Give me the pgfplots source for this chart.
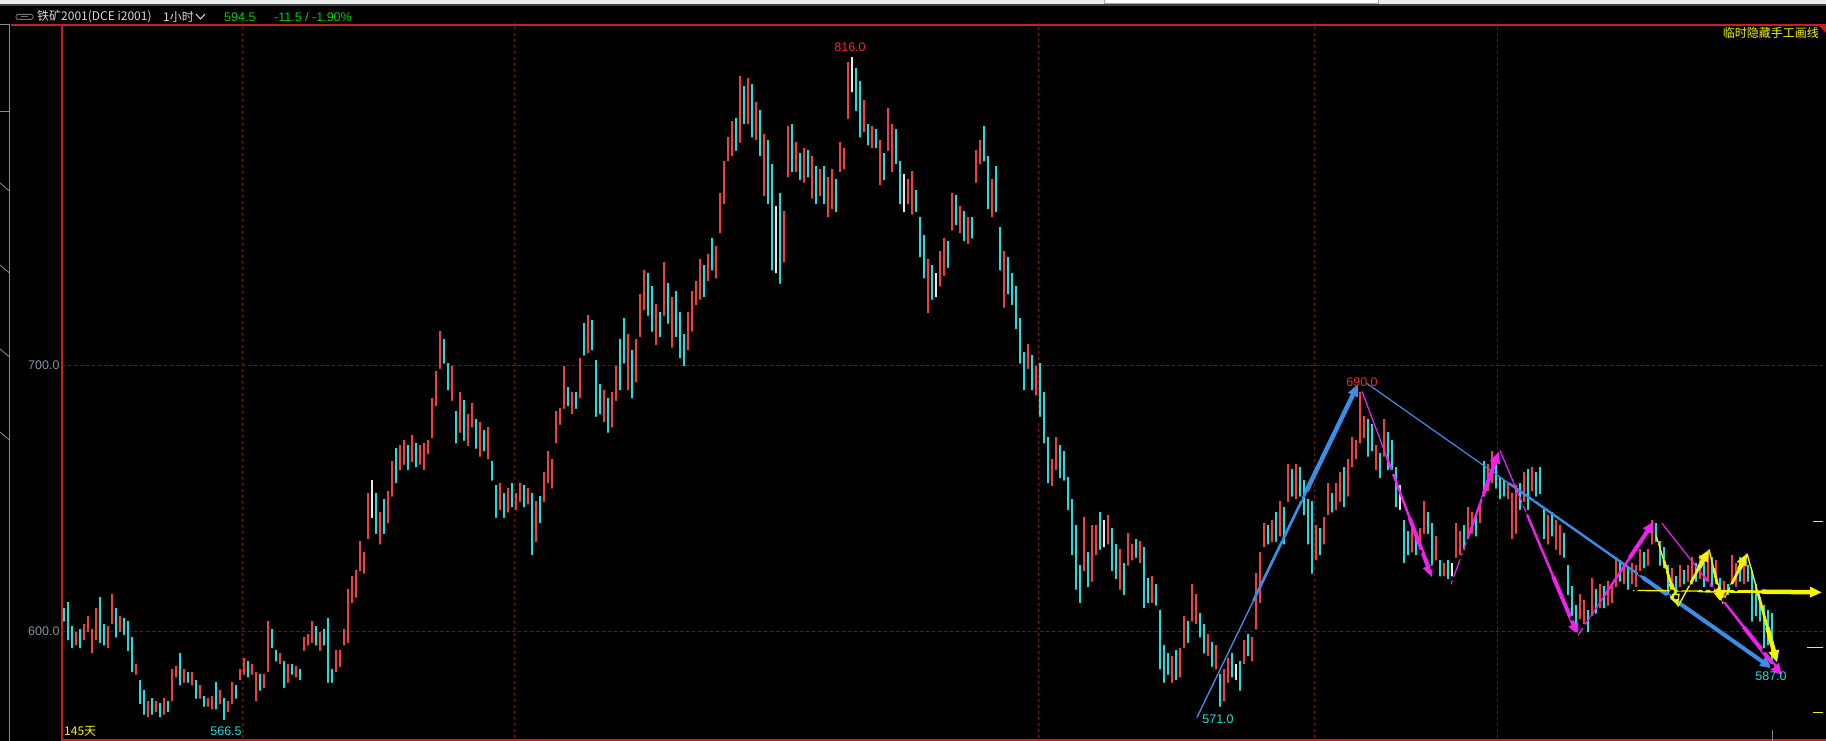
\documentclass[border=0pt]{standalone}
\usepackage{pgfplots}
\pgfplotsset{compat=1.18}
\usepackage{pgfplotstable}
\usepackage{fontspec}
\setmainfont{Liberation Sans}
\newfontfamily\cjk{Noto Sans CJK SC}
\usetikzlibrary{arrows.meta,calc}

\definecolor{upred}{HTML}{F0403C}
\definecolor{dncyan}{HTML}{22DDE0}
\definecolor{doji}{HTML}{E8E8E8}
\definecolor{gridred}{HTML}{8C0A0A}
\definecolor{framered}{HTML}{C81E1E}
\definecolor{tickgray}{HTML}{8494A4}
\definecolor{arrblue}{HTML}{3A8EE6}
\definecolor{arrmag}{HTML}{F020F0}
\definecolor{arryel}{HTML}{F5F500}
\definecolor{lblred}{HTML}{E83030}
\definecolor{lblcyan}{HTML}{20E0E0}
\definecolor{hdrgreen}{HTML}{00D000}

% x = bar position (px), lo/hi = range, c: 1 up, 0 down, 2 doji
\pgfplotstableread{
x lo hi c
64 603 609 0
68 596 611 0
72 593 602 0
76 594 600 1
80 593 601 0
84 596 603 1
88 599 606 1
92 591 601 1
96 596 609 1
100 595 613 0
104 594 603 0
108 593 602 1
112 602 614 1
116 597 609 0
120 599 606 1
124 598 605 0
128 592 604 0
132 584 598 0
136 583 588 1
140 572 582 0
144 568 578 0
148 567 574 1
152 568 575 0
156 569 574 1
160 567 573 0
164 568 575 1
168 569 574 0
172 573 586 1
176 582 587 1
180 579 592 0
184 580 586 1
188 580 585 0
192 579 585 1
196 574 582 0
200 574 580 1
204 571 576 0
208 571 575 1
212 570 576 1
216 570 581 0
220 572 578 1
224 566 575 0
228 569 574 1
232 572 581 1
236 574 580 0
240 581 586 1
244 583 590 1
248 582 589 0
252 583 588 1
256 573 585 1
260 577 584 0
264 578 584 1
268 584 604 1
272 593 601 0
276 588 593 0
280 587 592 1
284 578 589 0
288 580 588 1
292 583 588 0
296 582 587 1
300 581 586 0
304 592 598 1
308 594 599 1
312 595 604 1
316 594 602 0
320 592 600 1
324 594 601 0
328 580 605 0
332 580 586 0
336 584 593 1
340 586 593 1
344 594 601 1
348 595 616 1
352 610 621 1
356 612 623 1
360 622 634 1
364 621 630 1
368 634 652 1
372 642 657 2
376 636 652 0
380 632 645 1
384 636 650 0
388 640 653 1
392 650 664 1
396 655 669 0
400 660 670 1
404 662 672 1
408 660 670 0
412 663 674 1
416 661 671 0
420 662 670 1
424 660 671 1
428 666 672 1
432 672 688 1
436 684 698 1
440 698 713 1
444 700 710 0
448 690 701 0
452 686 700 1
456 670 683 0
460 674 690 1
464 671 687 0
468 669 682 1
472 676 686 1
476 668 680 0
480 665 679 1
484 667 676 0
488 664 677 1
492 656 664 0
496 642 655 0
500 645 656 1
504 642 652 0
508 644 654 1
512 646 656 0
516 645 652 1
520 648 656 1
524 646 655 0
528 647 654 1
532 628 652 0
536 633 649 1
540 640 651 0
544 648 660 1
548 655 668 1
552 653 665 1
556 670 683 1
560 677 684 1
564 683 700 1
568 684 692 0
572 681 690 1
576 683 690 0
580 687 703 1
584 703 716 0
588 704 719 1
592 705 717 0
596 680 702 0
600 681 693 0
604 678 691 1
608 674 688 0
612 676 690 1
616 686 700 1
620 690 710 0
624 700 718 0
628 690 712 1
632 687 706 0
636 693 710 1
640 710 727 1
644 720 736 1
648 718 735 0
652 712 730 0
656 707 723 1
660 710 720 0
664 718 739 1
668 715 731 0
672 706 726 1
676 710 728 0
680 702 720 0
684 699 712 0
688 705 720 1
692 712 728 1
696 722 732 1
700 724 740 1
704 725 738 0
708 731 742 1
712 735 748 0
716 732 745 1
720 749 765 1
724 760 777 1
728 776 786 1
732 778 792 1
736 780 793 0
740 783 809 1
744 790 805 0
748 790 808 1
752 785 806 0
756 784 799 1
760 778 796 0
764 763 787 1
768 760 785 0
772 735 776 0
776 734 760 2
780 730 765 0
784 738 758 1
788 770 790 1
792 772 791 0
796 772 784 1
800 769 780 0
804 768 782 1
808 770 781 0
812 762 779 1
816 760 775 0
820 763 774 1
824 760 775 0
828 755 771 1
832 758 774 1
836 757 770 0
840 772 784 1
844 773 782 1
848 792 814 1
852 802 816 2
856 795 812 0
860 785 807 0
864 787 800 1
868 782 791 0
872 781 790 1
876 781 789 0
880 767 785 1
884 769 780 0
888 780 797 1
892 772 791 1
896 775 789 0
900 760 777 0
904 757 772 2
908 760 770 1
912 756 773 1
916 757 766 0
920 740 756 0
924 732 749 0
928 719 740 1
932 724 738 0
936 725 735 2
940 729 743 1
944 733 748 1
948 736 747 0
952 750 765 1
956 752 764 0
960 749 760 1
964 746 758 0
968 745 756 1
972 747 756 0
976 768 781 1
980 775 785 1
984 776 790 0
988 758 779 0
992 755 770 1
996 757 775 0
1000 735 752 0
1004 721 743 1
1008 726 741 0
1012 722 735 0
1016 713 730 0
1020 700 718 0
1024 690 705 0
1028 698 708 1
1032 690 704 0
1036 688 700 1
1040 680 701 0
1044 670 690 0
1048 655 673 0
1052 654 665 1
1056 660 673 1
1060 657 670 0
1064 656 668 0
1068 645 658 0
1072 628 650 0
1076 615 640 0
1080 610 625 0
1084 622 643 1
1088 616 630 0
1092 618 640 1
1096 628 640 1
1100 630 645 0
1104 631 642 2
1108 632 644 1
1112 622 639 0
1116 619 633 0
1120 615 631 1
1124 613 626 0
1128 624 637 1
1132 626 633 1
1136 627 635 0
1140 625 634 1
1144 608 632 0
1148 610 620 0
1152 610 621 1
1156 609 618 0
1160 585 608 0
1164 580 595 0
1168 583 592 0
1172 580 591 1
1176 581 593 0
1180 582 594 1
1184 593 606 1
1188 595 604 0
1192 603 618 1
1196 602 614 1
1200 597 607 0
1204 591 603 0
1208 590 599 1
1212 586 596 0
1216 585 595 1
1220 571 584 0
1224 573 586 1
1228 580 590 1
1232 582 592 0
1236 581 588 2
1240 577 589 0
1244 587 597 1
1248 590 599 0
1252 588 598 1
1256 600 622 1
1260 610 630 1
1264 631 641 1
1268 632 640 0
1272 633 642 1
1276 633 645 0
1280 635 649 1
1284 632 647 0
1288 648 663 1
1292 650 661 0
1296 649 663 1
1300 650 662 0
1304 643 657 0
1308 632 650 0
1312 621 649 0
1316 626 640 1
1320 628 639 0
1324 632 643 1
1328 643 656 1
1332 644 652 0
1336 645 656 1
1340 648 660 1
1344 646 662 0
1348 650 665 1
1352 661 673 1
1356 664 672 1
1360 670 690 1
1364 672 681 1
1368 665 680 0
1372 667 678 0
1376 660 670 1
1380 657 667 0
1384 665 680 1
1388 660 675 0
1392 660 672 0
1396 646 662 0
1400 645 655 2
1404 625 642 0
1408 628 638 0
1412 629 640 1
1416 628 637 0
1420 630 639 1
1424 636 649 1
1428 636 645 0
1432 624 641 0
1436 626 636 1
1440 620 627 0
1444 620 626 1
1448 619 627 0
1452 620 626 2
1456 627 641 1
1460 628 638 1
1464 630 640 0
1468 634 647 1
1472 636 645 1
1476 635 644 0
1480 640 648 1
1484 650 664 0
1488 652 663 1
1492 655 668 1
1496 653 666 0
1500 649 658 0
1504 650 657 0
1508 649 656 1
1512 634 652 1
1516 636 655 1
1520 645 656 0
1524 648 660 1
1528 645 661 0
1532 652 662 1
1536 650 660 0
1540 651 662 0
1544 634 646 0
1548 632 644 1
1552 635 645 0
1556 630 642 1
1560 628 640 1
1564 627 637 0
1568 613 625 0
1572 605 617 0
1576 599 610 0
1580 604 614 1
1584 602 612 1
1588 599 608 0
1592 605 620 1
1596 606 616 0
1600 608 618 1
1604 608 617 0
1608 609 619 1
1612 610 617 1
1616 616 628 1
1620 618 627 0
1624 617 626 1
1628 615 624 0
1632 617 626 1
1636 616 625 1
1640 622 631 1
1644 623 630 0
1648 624 631 1
1652 632 642 1
1656 633 641 0
1660 624 634 0
1664 623 632 0
1668 613 625 0
1672 615 624 1
1676 613 621 0
1680 616 625 1
1684 617 623 0
1688 618 625 1
1692 617 628 1
1696 618 626 0
1700 619 629 1
1704 616 626 0
1708 618 630 1
1712 616 628 0
1716 617 627 1
1720 611 620 0
1724 612 619 1
1728 613 618 0
1732 617 629 1
1736 616 626 1
1740 618 628 0
1744 617 627 1
1748 618 625 0
1752 603 623 0
1756 605 618 0
1760 603 613 0
1764 593 610 0
1768 594 608 0
1772 587 607 0
}\candles

% tapered hand-drawn arrow: colour, start, end, max width
\newcommand\taper[4]{%
  \draw[#1, line width=0.3*#4] (#2) -- ($(#2)!0.4!(#3)$);
  \draw[#1, line width=0.6*#4] ($(#2)!0.35!(#3)$) -- ($(#2)!0.72!(#3)$);
  \draw[#1, line width=#4, -{Triangle[length=12pt,width=10pt]}] ($(#2)!0.68!(#3)$) -- (#3);
}

\begin{document}
\begin{tikzpicture}[x=1pt,y=1pt]
\fill[black] (0,0) rectangle (1826,741);
% window strip at the top
\fill[black!8] (0,741) rectangle (1826,737);
\fill[white] (1104,741) rectangle (1378,737.5);
\draw[black!35, line width=0.8pt] (1104,741) -- (1104,737.5) -- (1378,737.5) -- (1378,741);
\fill[black!75] (0,737) rectangle (1826,735);

\begin{axis}[
  at={(62,1)}, anchor=south west,
  scale only axis, width=1764pt, height=715pt,
  xmin=62, xmax=1826, ymin=559.9, ymax=828.7,
  axis line style={draw=none},
  clip=false,
  xtick={242,514,1038,1314,1497}, xticklabels={},
  ytick={600,700}, yticklabels={600.0,700.0},
  major tick length=0pt,
  yticklabel style={text=tickgray, font=\fontsize{12.5}{14}\selectfont, xshift=1pt},
  grid=major,
  major grid style={gridred, line width=0.9pt, dash pattern=on 3pt off 3pt},
]
\addplot[only marks, mark=none, restrict expr to domain={\thisrow{c}}{0.5:1.5},
  error bars/.cd, y dir=plus, y explicit, error mark=none,
  error bar style={upred, line width=2.1pt}]
  table[x=x, y=lo, y error expr=\thisrow{hi}-\thisrow{lo}] {\candles};
\addplot[only marks, mark=none, restrict expr to domain={\thisrow{c}}{-0.5:0.5},
  error bars/.cd, y dir=plus, y explicit, error mark=none,
  error bar style={dncyan, line width=2.1pt}]
  table[x=x, y=lo, y error expr=\thisrow{hi}-\thisrow{lo}] {\candles};
\addplot[only marks, mark=none, restrict expr to domain={\thisrow{c}}{1.5:2.5},
  error bars/.cd, y dir=plus, y explicit, error mark=none,
  error bar style={doji, line width=2.1pt}]
  table[x=x, y=lo, y error expr=\thisrow{hi}-\thisrow{lo}] {\candles};

% hand-drawn lines
\taper{arrblue}{axis cs:1197,567.8}{axis cs:1358,693.0}{4.5pt}
\taper{arrblue}{axis cs:1367,693.3}{axis cs:1772,586.2}{4pt}
\taper{arrmag}{axis cs:1362,690.3}{axis cs:1432,620.4}{4pt}
\taper{arrmag}{axis cs:1451,617.8}{axis cs:1499,667.8}{4pt}
\taper{arrmag}{axis cs:1500,668.1}{axis cs:1578,598.6}{4pt}
\taper{arrmag}{axis cs:1578,598.6}{axis cs:1654,641.5}{4pt}
\taper{arrmag}{axis cs:1662,640.7}{axis cs:1782,583.5}{4pt}
\taper{arryel}{axis cs:1633,615.5}{axis cs:1822,614.8}{4.5pt}
\taper{arryel}{axis cs:1656,636.2}{axis cs:1678,609.5}{4.5pt}
\taper{arryel}{axis cs:1678,609.5}{axis cs:1709,630.9}{4.5pt}
\taper{arryel}{axis cs:1709,630.9}{axis cs:1722,610.6}{4.5pt}
\taper{arryel}{axis cs:1722,610.6}{axis cs:1747,629.4}{4.5pt}
\taper{arryel}{axis cs:1747,629.4}{axis cs:1777,588.4}{4.5pt}

% high / low labels
\node[text=lblred, font=\fontsize{12.5}{14}\selectfont] at (axis cs:850,819.7) {816.0};
\node[text=lblred, font=\fontsize{12.5}{14}\selectfont] at (axis cs:1362,693.7) {690.0};
\node[text=lblcyan, font=\fontsize{12.5}{14}\selectfont] at (axis cs:1218,567.0) {571.0};
\node[text=lblcyan, font=\fontsize{12.5}{14}\selectfont] at (axis cs:226,562.5) {566.5};
\node[text=lblcyan, font=\fontsize{12.5}{14}\selectfont] at (axis cs:1771,583.2) {587.0};
\end{axis}

% frame
\draw[framered, line width=1.3pt] (11,716) -- (1826,716);
\draw[framered, line width=1.3pt] (62,716) -- (62,1) -- (1826,1);
\fill[framered] (1818,716) -- (1826,716) -- (1826,708) -- cycle;

% header
\draw[black!55, line width=1pt, rounded corners=1.5pt] (16,721.5) rectangle (33,726.5);
\draw[black!55, line width=1pt] (21,724) -- (28,724);
\node[anchor=west, inner sep=0pt, text=black!15, font=\cjk\fontsize{12}{14}\selectfont] at (37,724) {铁矿2001(DCE i2001)};
\node[anchor=west, inner sep=0pt, text=black!15, font=\cjk\fontsize{12}{14}\selectfont] at (163,724) {1小时};
\draw[black!15, line width=1pt] (196,727) -- (200.5,722) -- (205,727);
\node[anchor=west, inner sep=0pt, text=hdrgreen, font=\fontsize{12.5}{14}\selectfont] at (224,724) {594.5};
\node[anchor=west, inner sep=0pt, text=hdrgreen, font=\fontsize{12.5}{14}\selectfont] at (274,724) {-11.5 / -1.90\%};
\node[anchor=east, inner sep=0pt, text=arryel, font=\cjk\fontsize{12}{14}\selectfont] at (1819,708) {临时隐藏手工画线};
\node[anchor=west, inner sep=0pt, text=arryel, font=\cjk\fontsize{12}{14}\selectfont] at (64,10) {145天};

% side tabs
\draw[black!45, line width=0.9pt] (9.5,716) -- (9.5,0);
\draw[black!45, line width=0.9pt] (0,717) -- (9.5,717) -- (9.5,630) -- (0,630);
\foreach \r in {191,273,357,440} \draw[black!45, line width=0.8pt] (0,741-\r+8) -- (9.5,741-\r);

% small marks on the right edge
\draw[arryel, line width=1pt] (1813,219) -- (1823,219);
\draw[arryel, line width=1pt] (1807,93) -- (1823,93);
\draw[arryel, line width=1pt] (1813,28) -- (1823,28);
\draw[black!50, line width=0.8pt] (1772,11) -- (1772,0);

\pgfresetboundingbox
\path (0,0) rectangle (1826,741);
\end{tikzpicture}
\end{document}
